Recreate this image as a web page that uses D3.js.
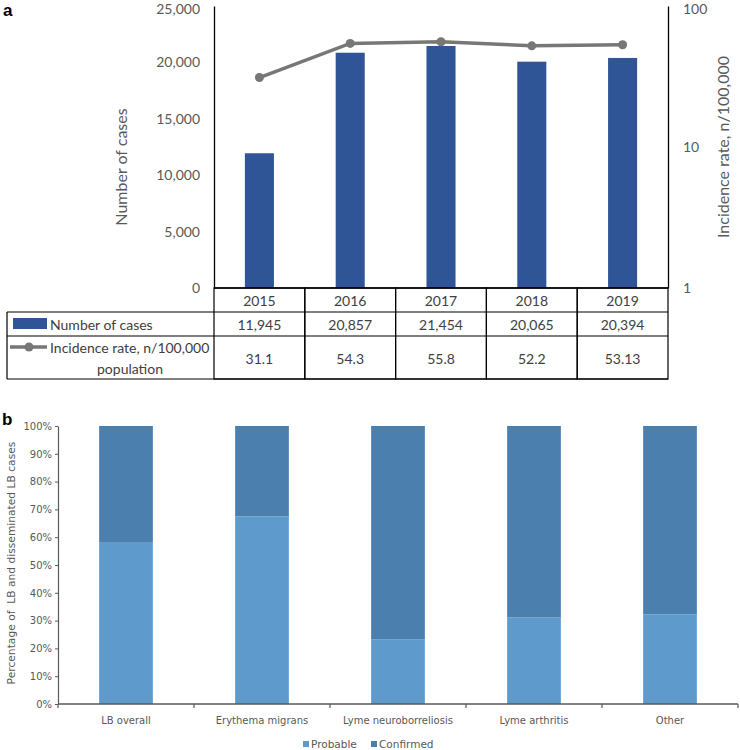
<!DOCTYPE html>
<html><head><meta charset="utf-8">
<script src="https://cdn.jsdelivr.net/npm/d3@7"></script>
<style>body{margin:0;background:#fff}svg{display:block}</style>
</head><body>
<svg id="c" width="740" height="750"></svg>
<script>
// ---------- Panel a data ----------
const years = ["2015","2016","2017","2018","2019"];
const cases = [11945, 20857, 21454, 20065, 20394];
const incidence = [31.1, 54.3, 55.8, 52.2, 53.13];
const caseLabels = ["11,945","20,857","21,454","20,065","20,394"];
const incidenceLabels = ["31.1","54.3","55.8","52.2","53.13"];
const leftTicks = [0, 5000, 10000, 15000, 20000, 25000];
const rightTicks = [1, 10, 100];

// ---------- Panel b data ----------
const forms = ["LB overall","Erythema migrans","Lyme neuroborreliosis","Lyme arthritis","Other"];
const probable = [0.58, 0.675, 0.233, 0.311, 0.322];
const confirmed = [0.42, 0.325, 0.767, 0.689, 0.678];
const pctTicks = [0,0.1,0.2,0.3,0.4,0.5,0.6,0.7,0.8,0.9,1.0];

const svg = d3.select("#c");
const FA = "Lato, 'Open Sans', sans-serif";
const FB = "'DejaVu Sans', Verdana, sans-serif";
const gray = "#595959";

// ===== Panel a =====
const x = d3.scaleBand().domain(years).range([214, 668]).padding(0);
const yL = d3.scaleLinear().domain([0, 25000]).range([288, 6]);
const yR = d3.scaleLog().domain([1, 100]).range([288, 6]);

svg.append("text").attr("x", 3).attr("y", 16).attr("font-family", "Arial, 'Liberation Sans', sans-serif")
  .attr("font-weight", "bold").attr("font-size", 17).text("a");

const bw = x.bandwidth() * 0.32;
svg.append("g").selectAll("rect").data(years).join("rect")
  .attr("x", (d) => x(d) + x.bandwidth()/2 - bw/2)
  .attr("width", bw)
  .attr("y", (d, i) => yL(cases[i]))
  .attr("height", (d, i) => yL(0) - yL(cases[i]))
  .attr("fill", "#2F5597");

const line = d3.line().x((d, i) => x(years[i]) + x.bandwidth()/2).y(d => yR(d));
svg.append("path").datum(incidence).attr("d", line).attr("fill", "none")
  .attr("stroke", "#777777").attr("stroke-width", 3.5);
svg.append("g").selectAll("circle").data(incidence).join("circle")
  .attr("cx", (d, i) => x(years[i]) + x.bandwidth()/2).attr("cy", d => yR(d)).attr("r", 4.5)
  .attr("fill", "#777777");

// left axis
const gL = svg.append("g").attr("transform", "translate(214,0)")
  .call(d3.axisLeft(yL).tickValues(leftTicks).tickSize(0).tickPadding(14).tickFormat(d3.format(",")));
gL.select(".domain").attr("stroke", "#000").attr("stroke-width", 1.3);
gL.selectAll("text").attr("font-family", FA).attr("font-size", 14).attr("fill", gray)
  .attr("dy", d => d === 25000 ? "0.55em" : "0.32em");

// right axis
const gR = svg.append("g").attr("transform", "translate(668,0)")
  .call(d3.axisRight(yR).tickValues(rightTicks).tickSize(0).tickPadding(15).tickFormat(d3.format("d")));
gR.select(".domain").attr("stroke", "#000").attr("stroke-width", 1.3);
gR.selectAll("text").attr("font-family", FA).attr("font-size", 14).attr("fill", gray)
  .attr("dy", d => d === 100 ? "0.55em" : "0.32em");

svg.append("text").attr("transform", "translate(127,167) rotate(-90)").attr("text-anchor", "middle")
  .attr("font-family", FA).attr("font-size", 16).attr("fill", gray).text("Number of cases");
svg.append("text").attr("transform", "translate(729,147) rotate(-90)").attr("text-anchor", "middle")
  .attr("font-family", FA).attr("font-size", 16).attr("fill", gray).text("Incidence rate, n/100,000");

// table
const rowTop = [288, 312, 336];
const rowBot = [312, 336, 379];
const tbl = svg.append("g");
const lineAttrs = s => s.attr("stroke", "#000").attr("stroke-width", 1.2);
years.forEach((yr, i) => {
  tbl.append("rect").attr("x", x(yr)).attr("y", rowTop[0]).attr("width", x.bandwidth())
    .attr("height", rowBot[2] - rowTop[0]).attr("fill", "none").call(lineAttrs);
});
[1, 2].forEach(r => {
  tbl.append("line").attr("x1", 7).attr("x2", 668).attr("y1", rowTop[r]).attr("y2", rowTop[r]).call(lineAttrs);
});
tbl.append("line").attr("x1", 7).attr("x2", 668).attr("y1", rowBot[2]).attr("y2", rowBot[2]).call(lineAttrs);
tbl.append("line").attr("x1", 7).attr("x2", 7).attr("y1", rowTop[1]).attr("y2", rowBot[2]).call(lineAttrs);
tbl.append("line").attr("x1", 214).attr("x2", 668).attr("y1", 288).attr("y2", 288).attr("stroke", "#000").attr("stroke-width", 1.3);

const cellText = (tx, ty, t, anchor) => tbl.append("text").attr("x", tx).attr("y", ty)
  .attr("text-anchor", anchor || "middle").attr("dominant-baseline", "central")
  .attr("font-family", FA).attr("font-size", 14).attr("fill", "#404040").text(t);

years.forEach((yr, i) => {
  const cx = x(yr) + x.bandwidth()/2;
  cellText(cx, 300, yr);
  cellText(cx, 324, caseLabels[i]);
  cellText(cx, 358, incidenceLabels[i]);
});
tbl.append("rect").attr("x", 13).attr("y", 318).attr("width", 34).attr("height", 11).attr("fill", "#2F5597");
cellText(50, 324, "Number of cases", "start");
tbl.append("line").attr("x1", 10).attr("x2", 47).attr("y1", 347).attr("y2", 347)
  .attr("stroke", "#777777").attr("stroke-width", 3.5);
tbl.append("circle").attr("cx", 29).attr("cy", 347).attr("r", 4.5).attr("fill", "#777777");
cellText(50, 347, "Incidence rate, n/100,000", "start");
cellText(130, 368, "population");

// ===== Panel b =====
const xb = d3.scaleBand().domain(forms).range([58, 738]).padding(0);
const yb = d3.scaleLinear().domain([0, 1]).range([704, 426]);
const cProb = "#5E9BCC", cConf = "#4A7FAE";

svg.append("text").attr("x", 2).attr("y", 425).attr("font-family", "Arial, 'Liberation Sans', sans-serif")
  .attr("font-weight", "bold").attr("font-size", 17).text("b");

const bwb = xb.bandwidth() * 0.395;
const gb = svg.append("g");
gb.selectAll("rect.p").data(forms).join("rect").attr("class", "p")
  .attr("x", d => xb(d) + xb.bandwidth()/2 - bwb/2).attr("width", bwb)
  .attr("y", (d, i) => yb(probable[i])).attr("height", (d, i) => yb(0) - yb(probable[i]))
  .attr("fill", cProb);
gb.selectAll("rect.c").data(forms).join("rect").attr("class", "c")
  .attr("x", d => xb(d) + xb.bandwidth()/2 - bwb/2).attr("width", bwb)
  .attr("y", (d, i) => yb(probable[i] + confirmed[i])).attr("height", (d, i) => yb(probable[i]) - yb(probable[i] + confirmed[i]))
  .attr("fill", cConf);

const gyb = svg.append("g").attr("transform", "translate(58,0)")
  .call(d3.axisLeft(yb).tickValues(pctTicks).tickSize(3).tickSizeOuter(0).tickPadding(3).tickFormat(d3.format(".0%")));
gyb.select(".domain").attr("stroke", "#595959").attr("stroke-width", 1.2);
gyb.selectAll(".tick line").attr("stroke", "#595959");
gyb.selectAll("text").attr("font-family", FB).attr("font-size", 10).attr("fill", gray);

svg.append("line").attr("x1", 58).attr("x2", 738).attr("y1", 704).attr("y2", 704)
  .attr("stroke", "#595959").attr("stroke-width", 1.5);
const edges = forms.map(f => xb(f)).concat([xb.range()[1]]);
svg.append("g").selectAll("line").data(edges).join("line")
  .attr("x1", d => d).attr("x2", d => d).attr("y1", 704).attr("y2", 708)
  .attr("stroke", "#595959").attr("stroke-width", 1.2);
svg.append("g").selectAll("text").data(forms).join("text")
  .attr("x", d => xb(d) + xb.bandwidth()/2).attr("y", 724).attr("text-anchor", "middle")
  .attr("font-family", FB).attr("font-size", 10).attr("fill", gray).text(d => d);

svg.append("text").attr("transform", "translate(15,563) rotate(-90)").attr("text-anchor", "middle")
  .attr("style", "white-space:pre")
  .attr("font-family", FB).attr("font-size", 10.7).attr("fill", gray).text("Percentage of  LB and disseminated LB cases");

const leg = [["Probable", cProb, 303], ["Confirmed", cConf, 371]];
leg.forEach(([t, c, lx]) => {
  svg.append("rect").attr("x", lx).attr("y", 741).attr("width", 6).attr("height", 6).attr("fill", c);
  svg.append("text").attr("x", lx + 8).attr("y", 748).attr("font-family", FB).attr("font-size", 10.5)
    .attr("fill", gray).text(t);
});
</script>
</body></html>
